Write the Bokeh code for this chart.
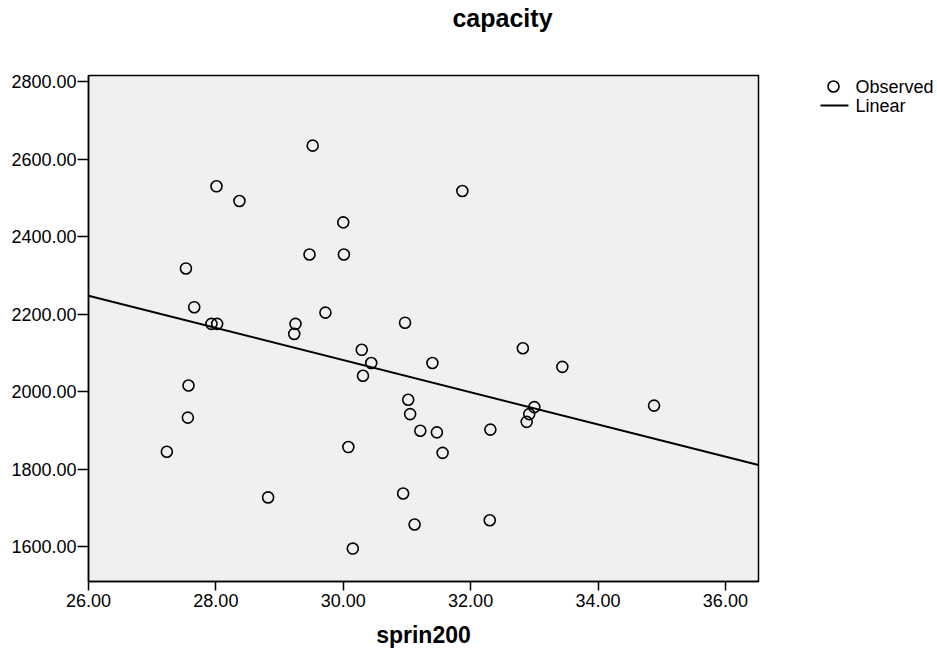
import numpy as np
from bokeh.plotting import figure
from bokeh.layouts import row, column
from bokeh.models import Range1d, FixedTicker, NumeralTickFormatter, ColumnDataSource
from bokeh.core.properties import value
from bokeh.embed import file_html
from bokeh.resources import INLINE

# ---- data ----
sprin200 = [29.52, 28.01, 28.37, 31.87, 30.00, 29.47, 30.01, 27.53, 27.66, 27.93,
            28.02, 29.25, 29.23, 29.72, 30.97, 30.29, 30.44, 30.31, 31.40, 32.82,
            33.44, 27.57, 27.56, 31.02, 31.05, 33.00, 32.92, 32.88, 34.88, 31.21,
            31.47, 32.31, 31.56, 30.08, 27.23, 28.82, 30.94, 31.12, 32.30, 30.15]
capacity = [2635, 2530, 2492, 2518, 2437, 2354, 2354, 2318, 2218, 2175,
            2175, 2175, 2149, 2204, 2178, 2108, 2074, 2041, 2074, 2112,
            2064, 2016, 1933, 1979, 1942, 1960, 1942, 1922, 1964, 1899,
            1895, 1902, 1842, 1857, 1845, 1727, 1737, 1657, 1668, 1595]
x_ticks = [26, 28, 30, 32, 34, 36]
y_ticks = [1600, 1800, 2000, 2200, 2400, 2600, 2800]
x_limits = [26.0, 36.52]
y_limits = [1510, 2816]
legend_labels = ["Observed", "Linear"]
title_text = "capacity"
x_title = "sprin200"

FONT = "Liberation Sans"
W, H = 937, 654
TITLE_H = 40
MAIN_W = 760
FRAME_TOP, FRAME_BOTTOM = 75, 581   # page pixels of the plot frame


def blank(width, height, xr, yr):
    f = figure(width=width, height=height, output_backend="svg", toolbar_location=None,
               title=None,
               x_range=Range1d(*xr), y_range=Range1d(*yr), x_axis_type=None, y_axis_type=None,
               min_border_left=0, min_border_right=0, min_border_top=0, min_border_bottom=0)
    f.grid.visible = False
    f.outline_line_color = None
    f.background_fill_color = "white"
    f.border_fill_color = "white"
    return f


# ---- title strip ----
tf = blank(W, TITLE_H, (0, W), (TITLE_H, 0))
tf.text(x=[502], y=[17.5], text=[title_text], text_font=value(FONT), text_font_size="25px",
        text_font_style="bold", text_color="black", text_align="center", text_baseline="middle")

# ---- main plot ----
p = figure(width=MAIN_W, height=H - TITLE_H, output_backend="svg", toolbar_location=None,
           x_range=Range1d(*x_limits), y_range=Range1d(*y_limits),
           min_border_left=88, min_border_right=2, min_border_top=FRAME_TOP - TITLE_H,
           min_border_bottom=H - FRAME_BOTTOM)
p.background_fill_color = "#f0f0f0"
p.border_fill_color = "white"
p.outline_line_color = "black"
p.outline_line_width = 1.5
p.xgrid.visible = False
p.ygrid.visible = False

for ax in (p.xaxis[0], p.yaxis[0]):
    ax.formatter = NumeralTickFormatter(format="0.00")
    ax.minor_tick_line_color = None
    ax.major_tick_in = 0
    ax.axis_line_width = 1.5
    ax.major_tick_line_width = 1.5
    ax.major_label_text_font = FONT
    ax.major_label_text_font_size = "18px"
    ax.major_label_text_color = "black"
p.xaxis.ticker = FixedTicker(ticks=x_ticks)
p.yaxis.ticker = FixedTicker(ticks=y_ticks)
p.xaxis.major_tick_out = 9
p.yaxis.major_tick_out = 11
p.yaxis.major_label_standoff = 1
p.xaxis.major_label_standoff = 3
p.xaxis.axis_label = x_title
p.xaxis.axis_label_text_font = FONT
p.xaxis.axis_label_text_font_size = "23px"
p.xaxis.axis_label_text_font_style = "bold"
p.xaxis.axis_label_text_color = "black"
p.xaxis.axis_label_standoff = 12

src = ColumnDataSource(dict(x=sprin200, y=capacity))
obs_style = dict(marker="circle", size=11, fill_color=None, line_color="black", line_width=1.6)
p.scatter("x", "y", source=src, **obs_style)

slope, intercept = np.polyfit(np.array(sprin200), np.array(capacity), 1)
lx = np.array(x_limits)
p.line(lx, intercept + slope * lx, line_color="black", line_width=2)

# ---- legend strip (its frame is aligned with the main frame; page-pixel coords) ----
lg = blank(W - MAIN_W, H - TITLE_H, (MAIN_W, W), (FRAME_BOTTOM, FRAME_TOP))
lg.scatter(x=[833], y=[86], **obs_style)
lg.line(x=[820, 848], y=[105, 105], line_color="black", line_width=2)
lg.text(x=[855, 855], y=[86, 105], text=legend_labels, text_font=value(FONT),
        text_font_size="18px", text_color="black", text_align="left", text_baseline="middle")

layout = column(tf, row(p, lg, spacing=0), spacing=0)
open("out.html", "w").write(file_html(layout, INLINE))
